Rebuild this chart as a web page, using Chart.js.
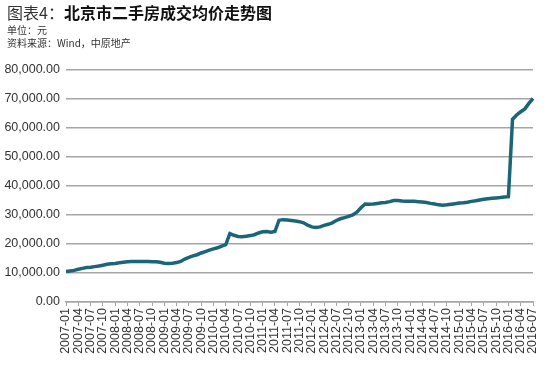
<!DOCTYPE html>
<html>
<head>
<meta charset="utf-8">
<script src="https://cdn.jsdelivr.net/npm/chart.js@4"></script>
<style>
  body { margin: 0; background: #fff; }
  #wrap { position: relative; width: 550px; height: 367px; }
  #head { position: absolute; left: 7px; top: 2px; font-family: "Noto Sans CJK SC", sans-serif; color: #222; }
  #title { font-size: 16px; line-height: 21px; color: #333; }
  #title b { font-weight: 700; color: #111; }
  .note { font-size: 10px; line-height: 13px; color: #333; }
  canvas { position: absolute; left: 0; top: 0; }
</style>
</head>
<body>
<div id="wrap">
  <canvas id="priceChart" width="550" height="367"></canvas>
  <div id="head">
    <div id="title">图表4：<b>北京市二手房成交均价走势图</b></div>
    <div class="note">单位：元</div>
    <div class="note">资料来源：Wind，中原地产</div>
  </div>
</div>
<script>
// Monthly average price (yuan/m2)
const price2007 = [10500, 10700, 10900, 11300, 11600, 11900, 12000, 12200, 12400, 12700, 13000, 13200];
const price2008 = [13300, 13500, 13700, 13900, 14000, 14000, 14000, 14000, 14000, 13900, 13900, 13700];
const price2009 = [13400, 13300, 13400, 13600, 14000, 14800, 15400, 15900, 16300, 16900, 17400, 17900];
const price2010 = [18300, 18700, 19300, 19800, 23600, 23000, 22600, 22500, 22700, 22900, 23200, 23800];
const price2011 = [24200, 24300, 24100, 24300, 28200, 28400, 28300, 28100, 27900, 27700, 27300, 26500];
const price2012 = [25900, 25700, 25900, 26400, 26800, 27300, 28100, 28700, 29100, 29500, 30000, 31000];
const price2013 = [32500, 33800, 33700, 33800, 34000, 34200, 34300, 34600, 35000, 35000, 34800, 34700];
const price2014 = [34700, 34700, 34600, 34500, 34300, 34000, 33800, 33500, 33400, 33500, 33700, 33900];
const price2015 = [34100, 34200, 34400, 34700, 34900, 35200, 35400, 35600, 35800, 35900, 36000, 36200];
const price2016 = [36300, 63000, 64500, 65600, 66600, 68500, 70200];

const years = [2007, 2008, 2009, 2010, 2011, 2012, 2013, 2014, 2015, 2016];
const monthNames = ['01', '02', '03', '04', '05', '06', '07', '08', '09', '10', '11', '12'];
const yTicks = [0, 10000, 20000, 30000, 40000, 50000, 60000, 70000, 80000];

const prices = [].concat(price2007, price2008, price2009, price2010, price2011,
    price2012, price2013, price2014, price2015, price2016);

const months = [];
years.forEach(y => monthNames.forEach(m => months.push(y + '-' + m)));
months.length = prices.length;

const gridGray = '#a6a6a6';
const textFont = '"Liberation Sans", Arial, sans-serif';

const ctx = document.getElementById('priceChart').getContext('2d');
new Chart(ctx, {
    type: 'line',
    data: {
        labels: months,
        datasets: [{
            data: prices,
            borderColor: '#1b6579',
            borderWidth: 3.5,
            pointRadius: 0,
            tension: 0,
            fill: false
        }]
    },
    options: {
        responsive: false,
        animation: false,
        layout: { padding: { top: 70, right: 12, left: 0, bottom: 0 } },
        plugins: { legend: { display: false }, tooltip: { enabled: false } },
        scales: {
            x: {
                afterFit: scale => { scale.height = 65; },
                grid: { drawOnChartArea: false, color: gridGray, tickLength: 4, lineWidth: 1 },
                border: { display: true, color: gridGray, width: 1.5 },
                ticks: {
                    autoSkip: false,
                    minRotation: 90,
                    maxRotation: 90,
                    padding: 2,
                    color: '#333',
                    font: { family: textFont, size: 12.5 },
                    callback: function(value, index) {
                        return index % 3 === 0 ? this.getLabelForValue(value) : null;
                    }
                }
            },
            y: {
                min: 0,
                max: 80000,
                afterFit: scale => { scale.width = 66; },
                afterBuildTicks: scale => { scale.ticks = yTicks.map(v => ({ value: v })); },
                grid: { color: gridGray, lineWidth: 1.5, drawTicks: false },
                border: { display: false },
                ticks: {
                    padding: 6,
                    color: '#333',
                    font: { family: textFont, size: 12.5 },
                    callback: value => value.toLocaleString('en-US', { minimumFractionDigits: 2, maximumFractionDigits: 2 })
                }
            }
        }
    }
});
</script>
</body>
</html>
